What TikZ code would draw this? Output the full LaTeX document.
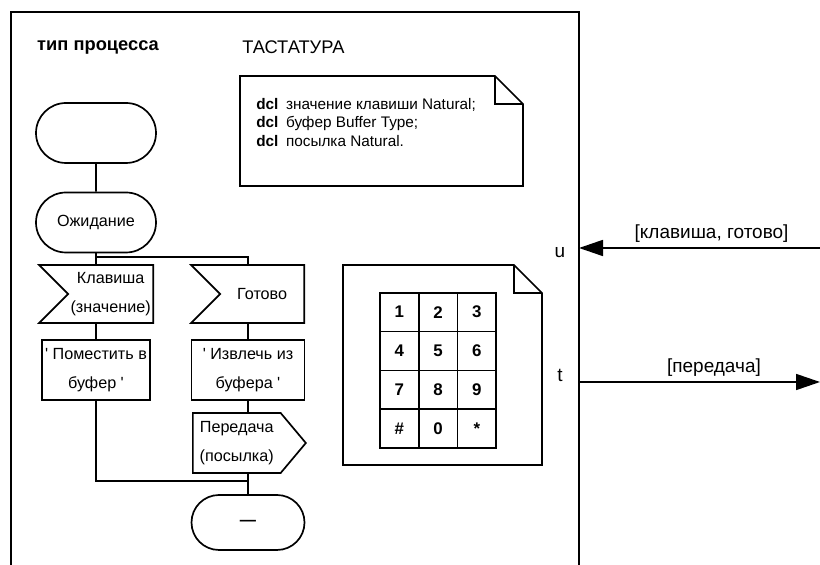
\documentclass[tikz,border=0pt]{standalone}
\usepackage{fontspec}
\setmainfont{Liberation Sans}
\usetikzlibrary{shapes.misc,shapes.symbols,arrows.meta}

\newcommand{\titlefont}{\fontsize{13}{15}\selectfont}
\newcommand{\boxfont}{\fontsize{11.5}{21}\selectfont}
\newcommand{\declfont}{\fontsize{10.9}{12}\selectfont}
\newcommand{\keyfont}{\fontsize{12}{14}\selectfont\bfseries}
\newcommand{\lblfont}{\fontsize{13.5}{15}\selectfont}

\begin{document}
\begin{tikzpicture}[
        line width=1.2pt,
        term/.style={rounded rectangle, draw, minimum width=3cm, minimum height=1.5cm, inner sep=0pt, font=\boxfont},
        insig/.style={signal, signal from=west, signal to=nowhere, draw, minimum width=2.85cm, minimum height=1.45cm, inner sep=0pt, align=center, font=\boxfont},
        outsig/.style={signal, signal from=nowhere, signal to=east, signal pointer angle=100, draw, minimum width=2.825cm, minimum height=1.5cm, inner sep=0pt, align=center, font=\boxfont},
        task/.style={rectangle, draw, minimum width=2.7cm, minimum height=1.5cm, inner sep=0pt, align=center, font=\boxfont},
        keycell/.style={rectangle, draw, minimum width=0.967cm, minimum height=0.969cm, inner sep=0pt, font=\keyfont},
        arr/.style={-{Triangle[length=0.6cm, width=0.4cm]}},
        lbl/.style={font=\lblfont, inner sep=1pt}
    ]
    \useasboundingbox (0,0) rectangle (20.5,14.125);

    % ---- FRAME ----
    \draw (0.275,0) -- (0.275,13.825) -- (14.475,13.825) -- (14.475,0);
    \node[lbl, anchor=west, font=\titlefont\bfseries] (kind) at (0.875,12.95) {тип процесса};
    \node[lbl, anchor=west, font=\titlefont] (name) at (6.0,12.95) {ТАСТАТУРА};

    % ---- DECLARATIONS ----
    \draw (6,12.225) -- (12.375,12.225) -- (13.075,11.525) -- (13.075,9.475) -- (6,9.475) -- cycle;
    \draw (12.375,12.225) -- (12.375,11.525) -- (13.075,11.525);
    \node[lbl, anchor=west, font=\declfont] (dcl1) at (6.35,11.5) {\textbf{dcl}\hspace{0.5em}значение клавиши Natural;};
    \node[lbl, anchor=west, font=\declfont] (dcl2) at (6.35,11.03) {\textbf{dcl}\hspace{0.5em}буфер Buffer Type;};
    \node[lbl, anchor=west, font=\declfont] (dcl3) at (6.35,10.6) {\textbf{dcl}\hspace{0.5em}посылка Natural.};

    % ---- PROCESS GRAPH ----
    \node[term] (start) at (2.4,10.8) {};
    \node[term] (wait) at (2.4,8.5625) {Ожидание};
    \node[insig, anchor=east] (sigKey) at (3.85,6.775) {Клавиша\\(значение)};
    \node[insig, anchor=east, minimum width=2.825cm] (sigReady) at (7.625,6.775) {Готово};
    \node[task] (put) at (2.4,4.875) {\textquotesingle\ Поместить в\\буфер \textquotesingle};
    \node[task, minimum width=2.825cm] (get) at (6.2,4.875) {\textquotesingle\ Извлечь из\\буфера \textquotesingle};
    \node[outsig, anchor=west] (send) at (4.8,3.05) {Передача\\(посылка)};
    \node[term, minimum width=2.825cm, minimum height=1.375cm] (stop) at (6.2,1.0625) {\textbf{---}};

    \draw (start) -- (wait);
    \draw (wait.south) -- ++(0,-0.1) coordinate (fork) -| (sigReady.north -| get.north);
    \draw (fork) -- (fork |- sigKey.north);
    \draw (sigKey.south -| put.north) -- (put.north);
    \draw (sigReady.south -| get.north) -- (get.north);
    \draw (get.south) -- (get.south |- send.north);
    \draw (send.south -| stop.north) -- (stop.north);
    \coordinate (merge) at (6.2,2.1);
    \draw (put.south) |- (merge);

    % ---- KEYPAD ----
    \draw (8.575,7.5) -- (12.85,7.5) -- (13.55,6.8) -- (13.55,2.5) -- (8.575,2.5) -- cycle;
    \draw (12.85,7.5) -- (12.85,6.8) -- (13.55,6.8);
    \node[keycell] (k1) at (9.98,6.32) {1};
    \node[keycell] (k2) at (10.95,6.32) {2};
    \node[keycell] (k3) at (11.92,6.32) {3};
    \node[keycell] (k4) at (9.98,5.35) {4};
    \node[keycell] (k5) at (10.95,5.35) {5};
    \node[keycell] (k6) at (11.92,5.35) {6};
    \node[keycell] (k7) at (9.98,4.38) {7};
    \node[keycell] (k8) at (10.95,4.38) {8};
    \node[keycell] (k9) at (11.92,4.38) {9};
    \node[keycell] (kHash) at (9.98,3.41) {\#};
    \node[keycell] (k0) at (10.95,3.41) {0};
    \node[keycell] (kStar) at (11.92,3.41) {*};

    % ---- CHANNELS ----
    \coordinate (portU) at (14.475,7.925);
    \coordinate (srcU) at (20.5,7.925);
    \coordinate (portT) at (14.475,4.575);
    \coordinate (dstT) at (20.5,4.575);
    \node[lbl] (u) at (14.0,7.8) {u};
    \node[lbl] (t) at (14.0,4.75) {t};
    \draw[arr] (srcU) -- node[lbl, above=2pt, pos=0.45] (inLbl) {[клавиша, готово]} (portU);
    \draw[arr] (portT) -- node[lbl, above=2pt, pos=0.56] (outLbl) {[передача]} (dstT);

\end{tikzpicture}
\end{document}
